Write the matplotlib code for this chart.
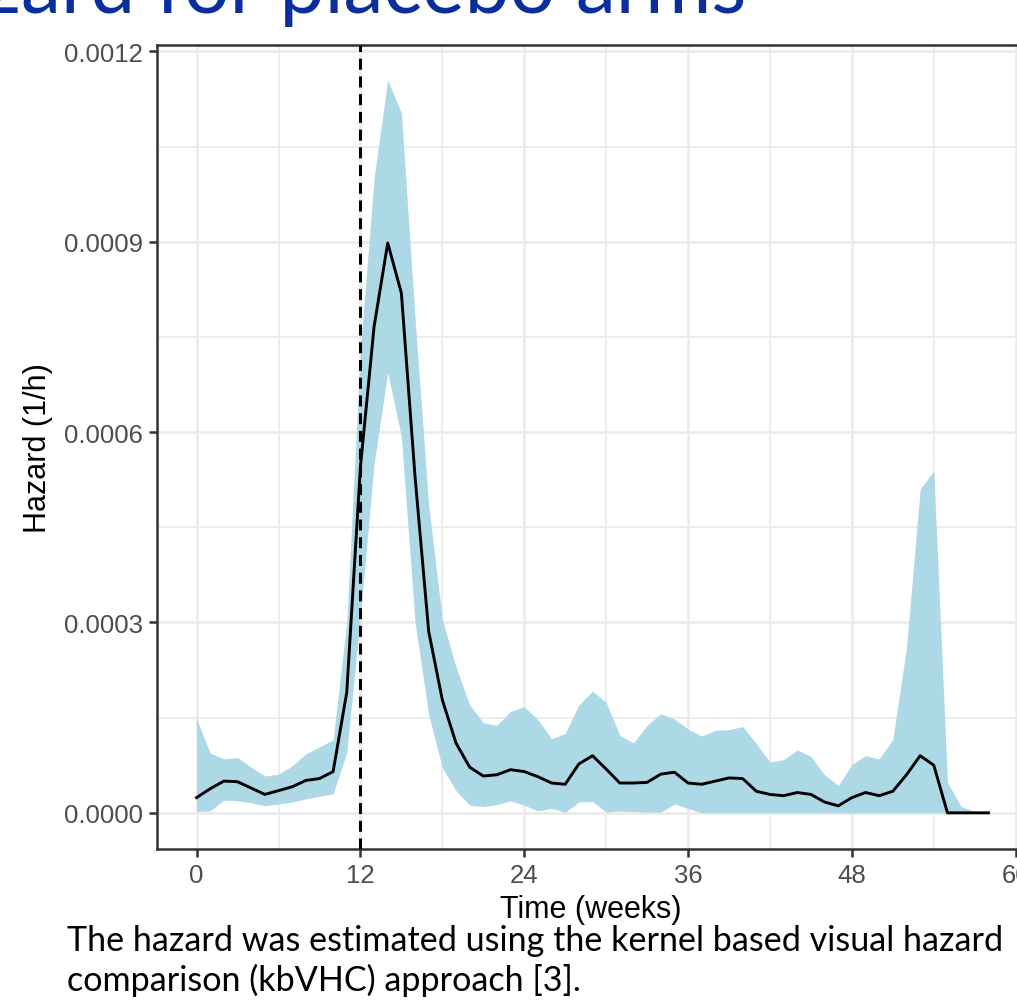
import numpy as np
import matplotlib.pyplot as plt
from matplotlib.ticker import MultipleLocator, FormatStrFormatter

# weekly kernel hazard estimate, placebo arms (weeks 0..58)
weeks = list(range(0, 59))
hazard = [2.4e-5, 3.8e-5, 5.0e-5, 4.9e-5, 3.9e-5, 2.9e-5, 3.5e-5, 4.1e-5, 5.1e-5, 5.4e-5,
          6.5e-5, 1.9e-4, 5.45e-4, 7.66e-4, 8.98e-4, 8.19e-4, 5.3e-4, 2.86e-4, 1.78e-4, 1.1e-4,
          7.2e-5, 5.8e-5, 6.0e-5, 6.8e-5, 6.5e-5, 5.7e-5, 4.7e-5, 4.5e-5, 7.7e-5, 9.0e-5,
          6.9e-5, 4.7e-5, 4.7e-5, 4.8e-5, 6.1e-5, 6.4e-5, 4.7e-5, 4.5e-5, 5.0e-5, 5.5e-5,
          5.4e-5, 3.4e-5, 2.9e-5, 2.7e-5, 3.2e-5, 2.9e-5, 1.7e-5, 1.1e-5, 2.4e-5, 3.2e-5,
          2.7e-5, 3.4e-5, 6.0e-5, 9.0e-5, 7.5e-5, 0.0, 0.0, 0.0, 0.0]
upper = [1.48e-4, 9.4e-5, 8.5e-5, 8.7e-5, 7.2e-5, 5.8e-5, 6.1e-5, 7.4e-5, 9.3e-5, 1.04e-4,
         1.15e-4, 3.0e-4, 7.3e-4, 1.0e-3, 1.155e-3, 1.103e-3, 7.8e-4, 4.85e-4, 3.05e-4, 2.3e-4,
         1.7e-4, 1.42e-4, 1.38e-4, 1.6e-4, 1.67e-4, 1.47e-4, 1.17e-4, 1.25e-4, 1.7e-4, 1.92e-4,
         1.74e-4, 1.22e-4, 1.1e-4, 1.38e-4, 1.56e-4, 1.48e-4, 1.32e-4, 1.21e-4, 1.3e-4, 1.31e-4,
         1.36e-4, 1.09e-4, 8.0e-5, 8.4e-5, 9.9e-5, 8.9e-5, 6.0e-5, 4.3e-5, 7.6e-5, 9.0e-5,
         8.5e-5, 1.16e-4, 2.6e-4, 5.1e-4, 5.39e-4, 4.8e-5, 1.0e-5, 2e-6, 0.0]
lower = [2e-6, 3e-6, 2.0e-5, 1.9e-5, 1.6e-5, 1.1e-5, 1.4e-5, 1.7e-5, 2.2e-5, 2.6e-5,
         3.0e-5, 9.5e-5, 3.1e-4, 5.5e-4, 6.94e-4, 5.93e-4, 3.0e-4, 1.55e-4, 7.1e-5, 3.5e-5,
         1.2e-5, 1.0e-5, 1.3e-5, 1.9e-5, 1.2e-5, 3e-6, 7e-6, 1e-6, 1.7e-5, 1.8e-5,
         1e-6, 3e-6, 2e-6, 1e-6, 1e-6, 1.4e-5, 7e-6, 0.0, 0.0, 0.0,
         0.0, 0.0, 0.0, 0.0, 0.0, 0.0, 0.0, 0.0, 0.0, 0.0,
         0.0, 0.0, 0.0, 0.0, 0.0, 0.0, 0.0, 0.0, 0.0]
cutoff_week = 12

title = "Hazard for placebo arms"
caption = ["The hazard was estimated using the kernel based visual hazard",
           "comparison (kbVHC) approach [3]."]

W, H = 1017, 1004
fig = plt.figure(figsize=(W / 100, H / 100), dpi=100)
plt.rcParams['font.family'] = ['Liberation Sans', 'DejaVu Sans']

# panel (extends past the right edge like the cropped slide)
ax = fig.add_axes([157 / W, (H - 850) / H, 871 / W, 804 / H])
ax.fill_between(weeks, lower, upper, color='#ADD8E6', linewidth=0, zorder=2)
ax.plot(weeks, hazard, color='black', lw=2.1, zorder=3)
ax.axvline(cutoff_week, color='black', lw=2.2, linestyle=(0, (3.6, 2.2)), zorder=4)

ax.set_xlim(-2.9, 60.9)
ax.set_ylim(-5.7e-5, 0.00121)
ax.xaxis.set_major_locator(MultipleLocator(12))
ax.xaxis.set_minor_locator(MultipleLocator(6))
ax.yaxis.set_major_locator(MultipleLocator(0.0003))
ax.yaxis.set_minor_locator(MultipleLocator(0.00015))
ax.yaxis.set_major_formatter(FormatStrFormatter('%.4f'))

ax.grid(which='major', color='#EBEBEB', lw=2.0, zorder=0)
ax.grid(which='minor', color='#EBEBEB', lw=1.3, zorder=0)
ax.set_axisbelow(True)
for s in ax.spines.values():
    s.set_color('#333333')
    s.set_linewidth(1.8)
ax.tick_params(which='major', direction='out', length=6, width=1.8, color='#333333',
               labelcolor='#4D4D4D', labelsize=18.5, pad=4)
ax.tick_params(which='minor', length=0)

ax.set_xlabel('Time (weeks)', fontsize=22, color='black')
ax.set_ylabel('Hazard (1/h)', fontsize=22, color='black', labelpad=8)
ax.xaxis.set_label_coords((591 - 157) / 871, -(910 - 850) / 804, transform=ax.transAxes)
ax.xaxis.label.set_va('center')

# slide title (cropped at the top) and caption
fig.text(746 / W, 1 - 13 / H, title, ha='right', va='baseline', fontsize=58,
         color='#0A2E9C', family=['Lato', 'DejaVu Sans'])
fig.text(67 / W, 1 - 951 / H, caption[0], ha='left', va='baseline', fontsize=24.6,
         color='black', family=['Lato', 'DejaVu Sans'])
fig.text(67 / W, 1 - 991 / H, caption[1], ha='left', va='baseline', fontsize=24.6,
         color='black', family=['Lato', 'DejaVu Sans'])

fig.savefig('out.png', dpi=100)
